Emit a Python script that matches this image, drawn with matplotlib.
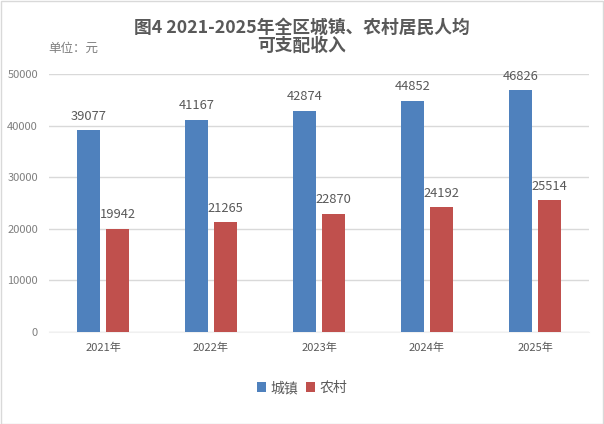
import matplotlib
matplotlib.use("Agg")
import matplotlib.pyplot as plt
import numpy as np
from matplotlib.patches import Rectangle

plt.rcParams['font.family'] = ['Noto Sans CJK SC', 'DejaVu Sans']

years = ['2021年', '2022年', '2023年', '2024年', '2025年']
urban = [39077, 41167, 42874, 44852, 46826]
rural = [19942, 21265, 22870, 24192, 25514]
series_names = ['城镇', '农村']
yticks = [0, 10000, 20000, 30000, 40000, 50000]

blue = '#4F81BD'
red = '#C0504D'
txt = '#595959'

fig = plt.figure(figsize=(6.04, 4.24), dpi=100)
ax = fig.add_axes([49/604, 1-332/424, 540/604, (332-74)/424])

x = np.arange(len(years))
w = 0.213
off = (w + 0.056) / 2
b1 = ax.bar(x - off, urban, w, color=blue, label=series_names[0], zorder=3)
b2 = ax.bar(x + off, rural, w, color=red, label=series_names[1], zorder=3)

for bars, vals in ((b1, urban), (b2, rural)):
    for r, v in zip(bars, vals):
        ax.annotate(str(v), (r.get_x() + r.get_width()/2, v), xytext=(0, 5.5),
                    textcoords='offset points', ha='center', va='bottom',
                    fontsize=9.3, color=txt)

ax.set_xlim(-0.5, len(years) - 0.5)
ax.set_ylim(0, 50000)
ax.set_yticks(yticks)
ax.set_yticklabels([str(t) for t in yticks], fontsize=8, color='#7f7f7f')
ax.set_xticks(x)
ax.set_xticklabels(years, fontsize=8, color=txt)
ax.tick_params(axis='both', length=0, pad=8)
ax.grid(axis='y', color='#d9d9d9', linewidth=1, zorder=0)
for s in ['top', 'right', 'left']:
    ax.spines[s].set_visible(False)
ax.spines['bottom'].set_color('#f0f0f0')

fig.text(0.5, 1-19/424, '图4 2021-2025年全区城镇、农村居民人均\n可支配收入', ha='center', va='top',
         fontsize=12.8, fontweight='bold', color=txt, linespacing=1.0)
fig.text(48/604, 1-48/424, '单位：元', ha='left', va='center', fontsize=9, color='#7f7f7f')

leg = fig.legend(handles=[b1, b2], labels=series_names, loc='center', bbox_to_anchor=(0.5, 1-388/424),
                 ncol=2, frameon=False, fontsize=10, handlelength=0.65, handleheight=0.65,
                 handletextpad=0.3, columnspacing=0.6)
for t in leg.get_texts():
    t.set_color(txt)

fig.patches.append(Rectangle((0.5/604, 0.5/424), 1-1.5/604, 1-1.5/424, transform=fig.transFigure,
                             fill=False, edgecolor='#d9d9d9', linewidth=1))

fig.savefig('out.png', dpi=100)
